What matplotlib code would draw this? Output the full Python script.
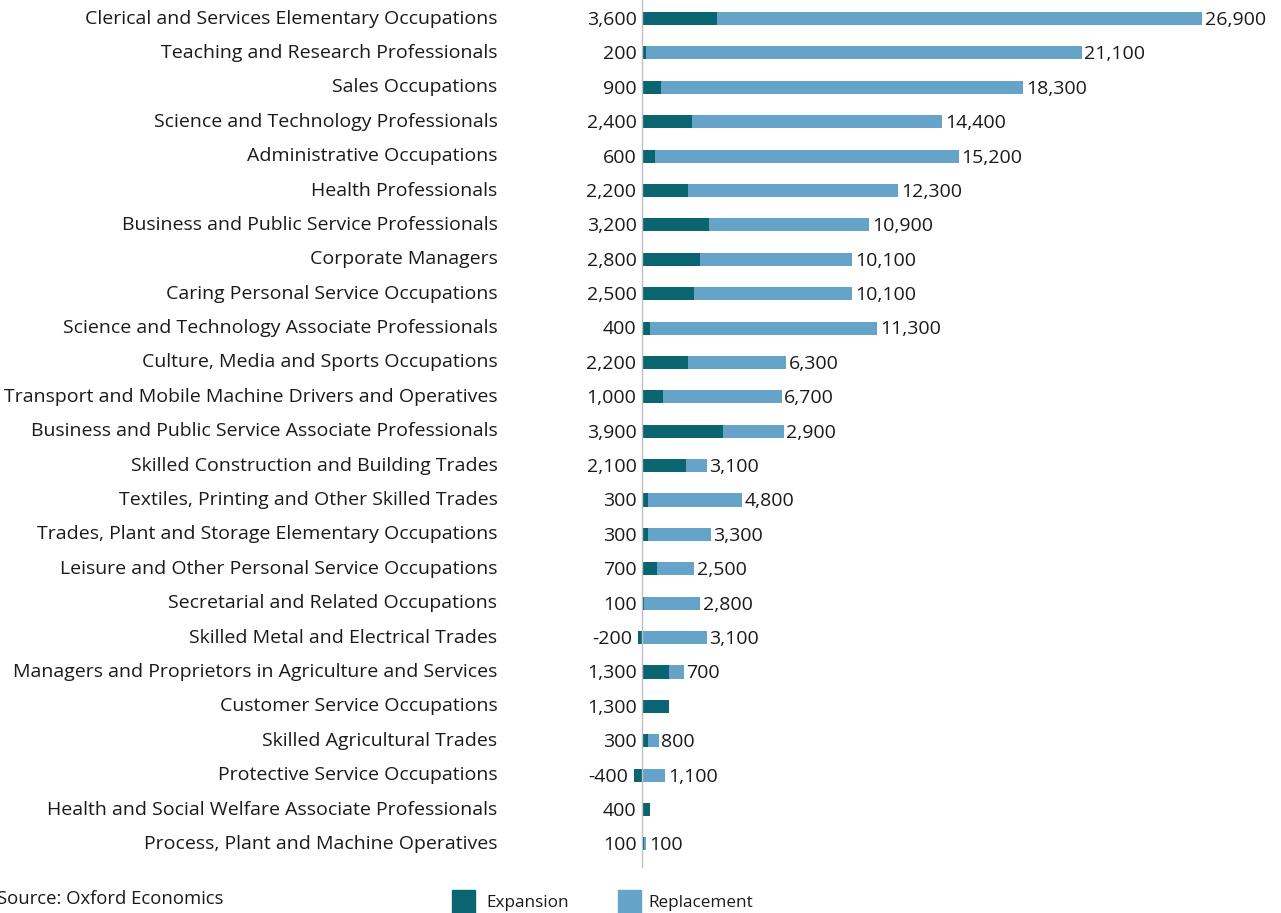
import numpy as np
import matplotlib.pyplot as plt
from matplotlib.patches import Rectangle

# occupations, top to bottom
occupations = [
    'Clerical and Services Elementary Occupations',
    'Teaching and Research Professionals',
    'Sales Occupations',
    'Science and Technology Professionals',
    'Administrative Occupations',
    'Health Professionals',
    'Business and Public Service Professionals',
    'Corporate Managers',
    'Caring Personal Service Occupations',
    'Science and Technology Associate Professionals',
    'Culture, Media and Sports Occupations',
    'Transport and Mobile Machine Drivers and Operatives',
    'Business and Public Service Associate Professionals',
    'Skilled Construction and Building Trades',
    'Textiles, Printing and Other Skilled Trades',
    'Trades, Plant and Storage Elementary Occupations',
    'Leisure and Other Personal Service Occupations',
    'Secretarial and Related Occupations',
    'Skilled Metal and Electrical Trades',
    'Managers and Proprietors in Agriculture and Services',
    'Customer Service Occupations',
    'Skilled Agricultural Trades',
    'Protective Service Occupations',
    'Health and Social Welfare Associate Professionals',
    'Process, Plant and Machine Operatives',
]

expansion = [3600, 200, 900, 2400, 600, 2200, 3200, 2800, 2500, 400, 2200, 1000, 3900,
             2100, 300, 300, 700, 100, -200, 1300, 1300, 300, -400, 400, 100]

# bar lengths as drawn in the chart
replacement = [23300, 20900, 17400, 12000, 14600, 10100, 7700, 7300, 7600, 10900, 4700, 5700, 2900,
               1000, 4500, 3000, 1800, 2700, 3100, 700, 0, 500, 1100, 0, 100]

# labels printed at the end of the bars
repl_labels = ['26,900', '21,100', '18,300', '14,400', '15,200', '12,300', '10,900', '10,100', '10,100',
               '11,300', '6,300', '6,700', '2,900', '3,100', '4,800', '3,300', '2,500', '2,800', '3,100',
               '700', '', '800', '1,100', '', '100']

dark = '#0a6570'
light = '#66a3c9'
txt = '#1a1a1a'
fs = 14
plt.rcParams['font.family'] = ['Open Sans', 'DejaVu Sans']

fig = plt.figure(figsize=(12.81, 9.13), dpi=100)
W, H = 1281, 913
ax = fig.add_axes([560 / W, 1 - 868 / H, 721 / W, 868 / H])

y = np.arange(len(occupations))
exp = np.array(expansion)
rep = np.array(replacement)
start = np.maximum(exp, 0)

ax.barh(y, exp, height=0.38, color=dark)
ax.barh(y, rep, left=start, height=0.38, color=light)

for i in range(len(y)):
    ax.annotate(f'{exp[i]:,}', (min(exp[i], 0), y[i]), xytext=(-4, -1), textcoords='offset points',
                ha='right', va='center', fontsize=fs, color=txt)
    if repl_labels[i]:
        ax.annotate(repl_labels[i], (start[i] + rep[i], y[i]), xytext=(2, -1), textcoords='offset points',
                    ha='left', va='center', fontsize=fs, color=txt)

ax.set_xlim(-3937, 30677)
ax.set_ylim(24.7, -0.54)
ax.axvline(0, color='#bfbfbf', lw=1)
for s in ax.spines.values():
    s.set_visible(False)
ax.set_xticks([])
ax.set_yticks(y)
ax.set_yticklabels(occupations, fontsize=fs, color=txt, va='center')
ax.tick_params(axis='y', length=0, pad=45)

fig.text(-3 / W, 1 - 899 / H, 'Source: Oxford Economics', fontsize=13.3, color=txt, va='center', ha='left')

# legend drawn by hand at the bottom edge
fig.patches.append(Rectangle((452 / W, 0), 23 / W, 23 / H, color=dark, transform=fig.transFigure))
fig.patches.append(Rectangle((618 / W, 0), 23 / W, 23 / H, color=light, transform=fig.transFigure))
fig.text(486 / W, 1 - 903 / H, 'Expansion', fontsize=12.3, color=txt, va='center', ha='left')
fig.text(648 / W, 1 - 903 / H, 'Replacement', fontsize=12.3, color=txt, va='center', ha='left')

fig.savefig('out.png', dpi=100)
